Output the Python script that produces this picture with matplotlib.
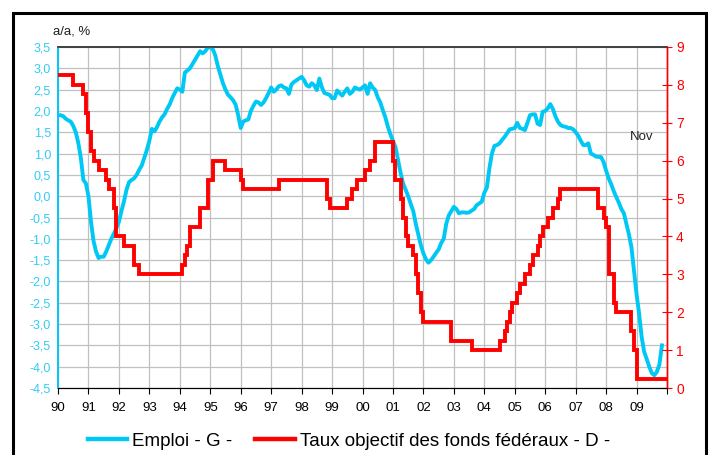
import matplotlib
matplotlib.use('Agg')
import matplotlib.pyplot as plt
import matplotlib.patches as mpatches
import numpy as np

plt.rcParams['font.family'] = ['Liberation Sans', 'DejaVu Sans']

# ── Emploi, glissement annuel en % (mensuel, janv. 1990 -> nov. 2009) ─────────
emp_1990 = [1.90, 1.90, 1.88, 1.82, 1.78, 1.75, 1.65, 1.50, 1.25, 0.90, 0.38, 0.30]
emp_1991 = [0.00, -0.60, -1.05, -1.30, -1.45, -1.42, -1.42, -1.30, -1.15, -1.00, -0.88, -0.75]
emp_1992 = [-0.60, -0.35, -0.12, 0.15, 0.33, 0.38, 0.42, 0.50, 0.62, 0.72, 0.90, 1.08]
emp_1993 = [1.30, 1.58, 1.52, 1.62, 1.75, 1.85, 1.92, 2.05, 2.15, 2.30, 2.42, 2.53]
emp_1994 = [2.50, 2.45, 2.90, 2.95, 3.00, 3.10, 3.20, 3.30, 3.40, 3.35, 3.40, 3.48]
emp_1995 = [3.50, 3.45, 3.30, 3.05, 2.85, 2.65, 2.50, 2.38, 2.32, 2.25, 2.15, 1.90]
emp_1996 = [1.60, 1.75, 1.78, 1.80, 2.00, 2.12, 2.22, 2.20, 2.14, 2.20, 2.30, 2.42]
emp_1997 = [2.55, 2.45, 2.50, 2.58, 2.60, 2.55, 2.53, 2.40, 2.62, 2.68, 2.72, 2.76]
emp_1998 = [2.80, 2.72, 2.60, 2.57, 2.65, 2.60, 2.49, 2.76, 2.55, 2.42, 2.40, 2.38]
emp_1999 = [2.30, 2.30, 2.48, 2.42, 2.36, 2.45, 2.53, 2.40, 2.45, 2.55, 2.52, 2.50]
emp_2000 = [2.55, 2.60, 2.40, 2.65, 2.55, 2.49, 2.32, 2.20, 2.02, 1.85, 1.63, 1.45]
emp_2001 = [1.30, 1.15, 0.85, 0.55, 0.30, 0.15, 0.00, -0.18, -0.35, -0.65, -0.90, -1.15]
emp_2002 = [-1.34, -1.48, -1.56, -1.50, -1.42, -1.33, -1.25, -1.10, -1.00, -0.65, -0.45, -0.35]
emp_2003 = [-0.25, -0.30, -0.40, -0.38, -0.38, -0.39, -0.38, -0.34, -0.30, -0.21, -0.17, -0.13]
emp_2004 = [0.08, 0.20, 0.65, 1.00, 1.18, 1.20, 1.24, 1.32, 1.39, 1.48, 1.57, 1.58]
emp_2005 = [1.60, 1.72, 1.60, 1.58, 1.55, 1.72, 1.90, 1.92, 1.92, 1.70, 1.67, 1.98]
emp_2006 = [2.00, 2.06, 2.16, 2.05, 1.88, 1.75, 1.67, 1.64, 1.63, 1.60, 1.60, 1.57]
emp_2007 = [1.50, 1.42, 1.30, 1.20, 1.20, 1.24, 1.00, 0.97, 0.93, 0.92, 0.92, 0.80]
emp_2008 = [0.60, 0.42, 0.28, 0.12, -0.02, -0.15, -0.30, -0.40, -0.65, -0.90, -1.20, -1.75]
emp_2009 = [-2.30, -2.75, -3.30, -3.65, -3.82, -4.00, -4.15, -4.20, -4.12, -3.95, -3.50]

# ── Taux objectif des fonds fédéraux, % (mensuel, 1990 -> 2009) ────────────────
fed_1990 = [8.25, 8.25, 8.25, 8.25, 8.25, 8.25, 8.0, 8.0, 8.0, 8.0, 7.75, 7.25]
fed_1991 = [6.75, 6.25, 6.0, 6.0, 5.75, 5.75, 5.75, 5.5, 5.25, 5.25, 4.75, 4.0]
fed_1992 = [4.0, 4.0, 3.75, 3.75, 3.75, 3.75, 3.25, 3.25, 3.0, 3.0, 3.0, 3.0]
fed_1993 = [3.0, 3.0, 3.0, 3.0, 3.0, 3.0, 3.0, 3.0, 3.0, 3.0, 3.0, 3.0]
fed_1994 = [3.0, 3.25, 3.5, 3.75, 4.25, 4.25, 4.25, 4.25, 4.75, 4.75, 4.75, 5.5]
fed_1995 = [5.5, 6.0, 6.0, 6.0, 6.0, 6.0, 5.75, 5.75, 5.75, 5.75, 5.75, 5.75]
fed_1996 = [5.5, 5.25, 5.25, 5.25, 5.25, 5.25, 5.25, 5.25, 5.25, 5.25, 5.25, 5.25]
fed_1997 = [5.25, 5.25, 5.25, 5.5, 5.5, 5.5, 5.5, 5.5, 5.5, 5.5, 5.5, 5.5]
fed_1998 = [5.5, 5.5, 5.5, 5.5, 5.5, 5.5, 5.5, 5.5, 5.5, 5.5, 5.0, 4.75]
fed_1999 = [4.75, 4.75, 4.75, 4.75, 4.75, 4.75, 5.0, 5.0, 5.25, 5.25, 5.5, 5.5]
fed_2000 = [5.5, 5.75, 5.75, 6.0, 6.0, 6.5, 6.5, 6.5, 6.5, 6.5, 6.5, 6.5]
fed_2001 = [6.0, 5.5, 5.5, 5.0, 4.5, 4.0, 3.75, 3.75, 3.5, 3.0, 2.5, 2.0]
fed_2002 = [1.75, 1.75, 1.75, 1.75, 1.75, 1.75, 1.75, 1.75, 1.75, 1.75, 1.75, 1.25]
fed_2003 = [1.25, 1.25, 1.25, 1.25, 1.25, 1.25, 1.25, 1.0, 1.0, 1.0, 1.0, 1.0]
fed_2004 = [1.0, 1.0, 1.0, 1.0, 1.0, 1.0, 1.25, 1.25, 1.5, 1.75, 2.0, 2.25]
fed_2005 = [2.25, 2.5, 2.75, 2.75, 3.0, 3.0, 3.25, 3.5, 3.5, 3.75, 4.0, 4.25]
fed_2006 = [4.25, 4.5, 4.5, 4.75, 4.75, 5.0, 5.25, 5.25, 5.25, 5.25, 5.25, 5.25]
fed_2007 = [5.25, 5.25, 5.25, 5.25, 5.25, 5.25, 5.25, 5.25, 5.25, 4.75, 4.75, 4.5]
fed_2008 = [4.25, 3.0, 3.0, 2.25, 2.0, 2.0, 2.0, 2.0, 2.0, 2.0, 1.5, 1.0]
fed_2009 = [0.25, 0.25, 0.25, 0.25, 0.25, 0.25, 0.25, 0.25, 0.25, 0.25, 0.25, 0.25]

years = list(range(1990, 2010))
year_labels = [f'{y % 100:02d}' for y in years]

emploi = np.array(emp_1990 + emp_1991 + emp_1992 + emp_1993 + emp_1994 + emp_1995 +
                  emp_1996 + emp_1997 + emp_1998 + emp_1999 + emp_2000 + emp_2001 +
                  emp_2002 + emp_2003 + emp_2004 + emp_2005 + emp_2006 + emp_2007 +
                  emp_2008 + emp_2009)
fed = np.array(fed_1990 + fed_1991 + fed_1992 + fed_1993 + fed_1994 + fed_1995 +
               fed_1996 + fed_1997 + fed_1998 + fed_1999 + fed_2000 + fed_2001 +
               fed_2002 + fed_2003 + fed_2004 + fed_2005 + fed_2006 + fed_2007 +
               fed_2008 + fed_2009)

BLUE = '#00C8F5'
BLUE_TXT = '#33CCF5'
RED = '#FF0000'
GRID = '#C0C0C0'

fig = plt.figure(figsize=(7.11, 4.55), dpi=100)
fig.patch.set_facecolor('white')
ax = fig.add_axes([58 / 711, 1 - 388 / 455, 609 / 711, 341 / 455])
ax2 = ax.twinx()

# cadre noir autour du graphique
fig.patches.append(mpatches.Rectangle((13 / 711, -0.02), 693 / 711, 1 - 13 / 455 + 0.02,
                                      transform=fig.transFigure, fill=False,
                                      edgecolor='black', linewidth=2.2))

months = np.arange(len(emploi))
ax.plot(months, emploi, color=BLUE, linewidth=2.8, solid_joinstyle='round', zorder=3)
ax2.stairs(fed, np.arange(len(fed) + 1), baseline=None, color=RED, linewidth=2.8, zorder=3)

ax.set_xlim(0, 240)
ax.set_ylim(-4.5, 3.5)
ax2.set_ylim(0, 9)

ax.set_xticks(np.arange(0, 241, 12))
ax.set_xticklabels(year_labels + [''])
yt = np.arange(-4.5, 3.51, 0.5)
ax.set_yticks(yt)
ax.set_yticklabels([f'{v:.1f}'.replace('.', ',') for v in yt])
ax2.set_yticks(range(0, 10))

ax.grid(True, color=GRID, linewidth=0.9)
ax.set_axisbelow(True)

ax.tick_params(axis='x', colors='black', labelsize=9.5, length=4, width=0.8, pad=6)
ax.tick_params(axis='y', colors=BLUE_TXT, labelcolor=BLUE_TXT, labelsize=9, length=0, pad=5)
ax2.tick_params(axis='y', colors=RED, labelcolor=RED, labelsize=10, direction='inout',
                length=7, width=0.8, pad=3)

for a in (ax, ax2):
    a.spines['left'].set_color(BLUE)
    a.spines['left'].set_linewidth(1.2)
    a.spines['bottom'].set_color('black')
    a.spines['top'].set_color('#404040')
    a.spines['top'].set_linewidth(1.2)
    a.spines['right'].set_color(RED)
    a.spines['right'].set_linewidth(1.0)

fig.text(53 / 711, 1 - 31 / 455, 'a/a, %', fontsize=9.5, color='#222222', va='center', ha='left')
fig.text(630 / 711, 1 - 137 / 455, 'Nov', fontsize=9.5, color='#222222', va='center', ha='left')

handles = [plt.Line2D([0], [0], color=BLUE, linewidth=3.2, label='Emploi - G -'),
           plt.Line2D([0], [0], color=RED, linewidth=3.2, label='Taux objectif des fonds fédéraux - D -')]
fig.legend(handles=handles, loc='center', bbox_to_anchor=(349 / 711, 1 - 441 / 455),
           ncol=2, frameon=False, fontsize=13.5, handlelength=2.1, handletextpad=0.3,
           columnspacing=1.2)

plt.savefig('out.png', dpi=100, facecolor='white')
